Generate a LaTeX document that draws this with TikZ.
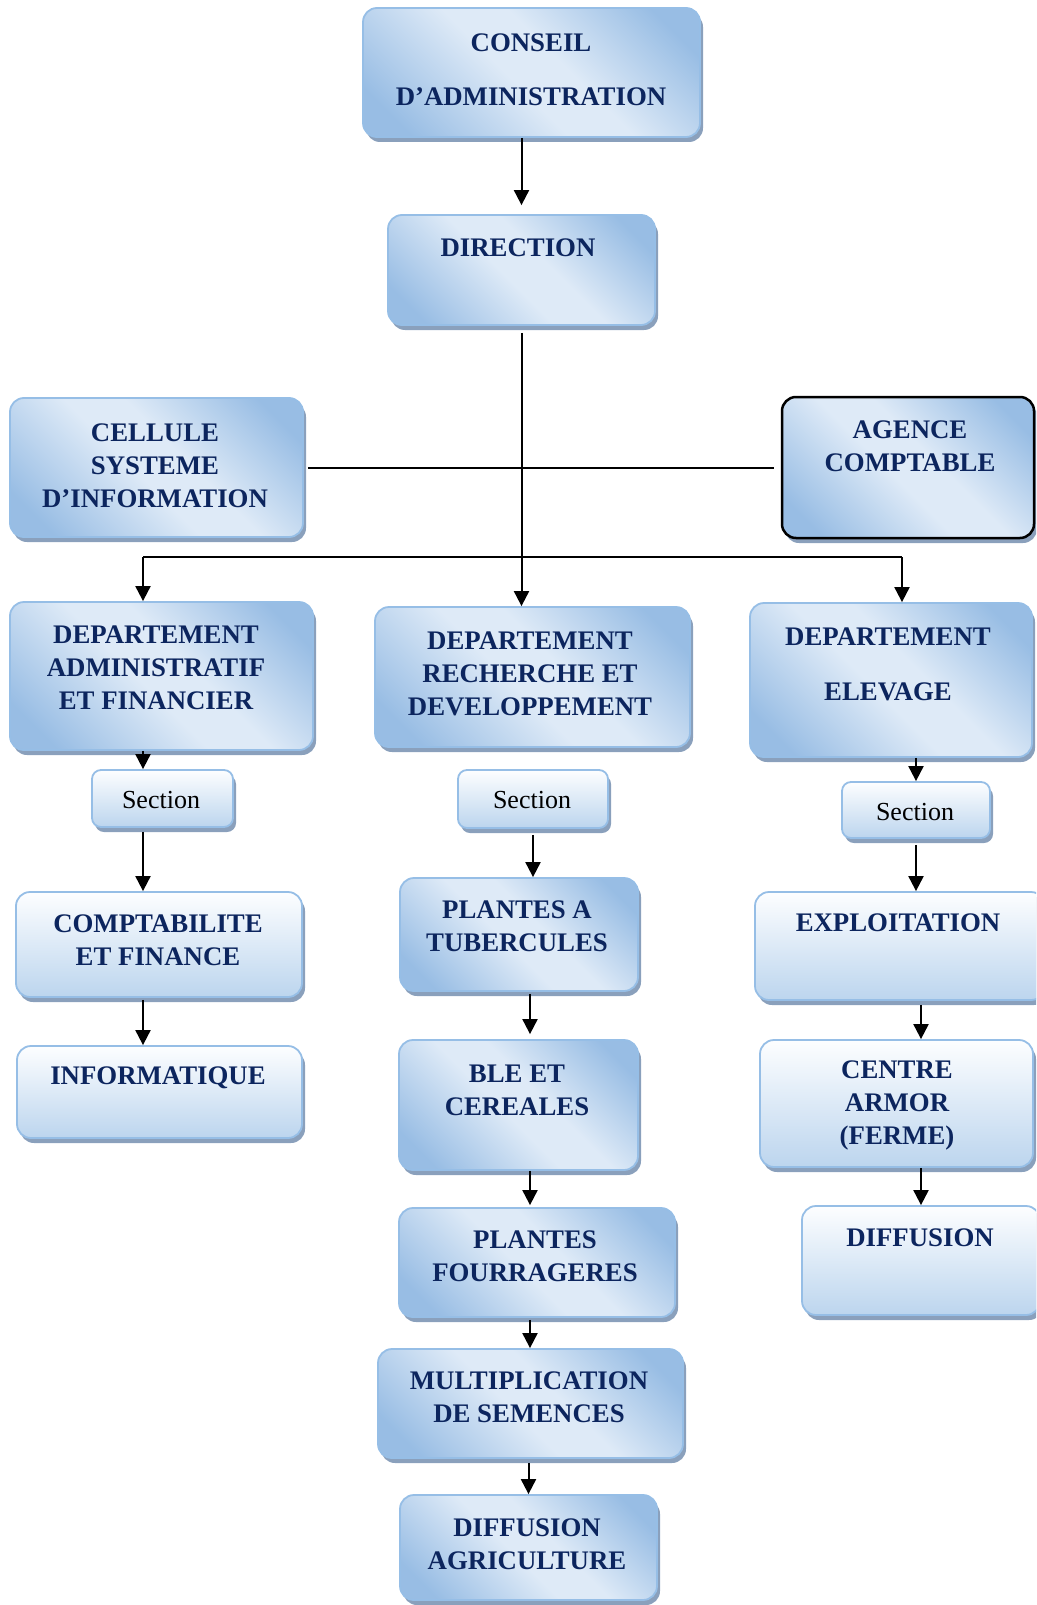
\documentclass[tikz,border=0pt]{standalone}
\usepackage{fontspec}
\setmainfont{Liberation Serif}
\usetikzlibrary{arrows.meta,shadows,calc}
\definecolor{navy}{RGB}{12,37,94}
\definecolor{bdark}{RGB}{152,189,228}
\definecolor{blight}{RGB}{222,234,247}
\definecolor{vtop}{RGB}{253,254,255}
\definecolor{vbot}{RGB}{188,213,238}
\definecolor{bord}{RGB}{150,190,230}
\definecolor{shadowc}{RGB}{138,160,188}
\pgfdeclarehorizontalshading{diagblue}{100bp}{color(0bp)=(bdark); color(22bp)=(bdark); color(46bp)=(blight); color(56bp)=(blight); color(78bp)=(bdark); color(100bp)=(bdark)}
\tikzset{
 boxbase/.style={draw=bord, line width=1.8pt, rounded corners=14pt, inner sep=0pt,
   drop shadow={shadow xshift=3pt, shadow yshift=-5pt, fill=shadowc, opacity=1}},
 dbox/.style={boxbase, shade, shading=diagblue, shading angle=45},
 vbox/.style={boxbase, top color=vtop, bottom color=vbot},
 secbox/.style={vbox, rounded corners=9pt},
 ttl/.style={font=\bfseries\fontsize{26.8}{33}\selectfont, text=navy, align=center, inner sep=0pt},
 sect/.style={font=\fontsize{26}{30}\selectfont, text=black, inner sep=0pt},
 arr/.style={line width=2pt, -{Triangle[width=15pt,length=15pt]}},
 conn/.style={line width=2pt},
}
\begin{document}
\begin{tikzpicture}[x=1pt,y=-1pt]
\useasboundingbox (0,0) rectangle (1036,1605);
\clip (0,0) rectangle (1036,1605);
% boxes
\node[dbox, minimum width=337pt, minimum height=129pt] (conseil) at (531.5,72.5) {};
\node[dbox, minimum width=267pt, minimum height=110pt] (direction) at (521.5,270) {};
\node[dbox, minimum width=293pt, minimum height=139pt] (cellule) at (156.5,467.5) {};
\node[dbox, draw=black, line width=2.5pt, minimum width=252pt, minimum height=141pt] (agence) at (908,467.5) {};
\node[dbox, minimum width=303pt, minimum height=148pt] (deptA) at (161.5,676) {};
\node[dbox, minimum width=315pt, minimum height=140pt] (deptR) at (532.5,677) {};
\node[dbox, minimum width=282pt, minimum height=154pt] (deptE) at (891,680) {};
\node[secbox, minimum width=141pt, minimum height=57pt] (secA) at (162.5,798.5) {};
\node[secbox, minimum width=150pt, minimum height=58pt] (secR) at (533,799) {};
\node[secbox, minimum width=148pt, minimum height=56pt] (secE) at (916,810) {};
\node[vbox, minimum width=286pt, minimum height=105pt] (compta) at (159,944.5) {};
\node[vbox, minimum width=285pt, minimum height=92pt] (info) at (159.5,1092) {};
\node[dbox, minimum width=238pt, minimum height=113pt] (tuber) at (519,934.5) {};
\node[dbox, minimum width=239pt, minimum height=130pt] (ble) at (518.5,1105) {};
\node[dbox, minimum width=276pt, minimum height=109pt] (fourr) at (537,1262.5) {};
\node[dbox, minimum width=305pt, minimum height=109pt] (multi) at (530.5,1403.5) {};
\node[dbox, minimum width=257pt, minimum height=105pt] (diffA) at (528.5,1547.5) {};
\node[vbox, minimum width=290pt, minimum height=108pt] (exploit) at (900,946) {};
\node[vbox, minimum width=273pt, minimum height=127pt] (centre) at (896.5,1103.5) {};
\node[vbox, minimum width=238pt, minimum height=109pt] (diffE) at (921,1260.5) {};
% texts
\node[ttl] (conseil-t) at (531,70) {CONSEIL\\[21pt]D’ADMINISTRATION};
\node[ttl] (direction-t) at (518,248) {DIRECTION};
\node[ttl] (cellule-t) at (155,466) {CELLULE\\SYSTEME\\D’INFORMATION};
\node[ttl] (agence-t) at (910,446.5) {AGENCE\\COMPTABLE};
\node[ttl] (deptA-t) at (156,667.5) {DEPARTEMENT\\ADMINISTRATIF\\ET FINANCIER};
\node[ttl] (deptR-t) at (530,673.5) {DEPARTEMENT\\RECHERCHE ET\\DEVELOPPEMENT};
\node[ttl] (deptE-t) at (888,664.5) {DEPARTEMENT\\[22pt]ELEVAGE};
\node[sect] (secA-t) at (161,800) {Section};
\node[sect] (secR-t) at (532,800) {Section};
\node[sect] (secE-t) at (915,812) {Section};
\node[ttl] (compta-t) at (158,940) {COMPTABILITE\\ET FINANCE};
\node[ttl] (info-t) at (158,1078) {INFORMATIQUE};
\node[ttl] (tuber-t) at (517,926) {PLANTES A\\TUBERCULES};
\node[ttl] (ble-t) at (517,1090) {BLE ET\\CEREALES};
\node[ttl] (fourr-t) at (535,1256.5) {PLANTES\\FOURRAGERES};
\node[ttl] (multi-t) at (529,1397.5) {MULTIPLICATION\\DE SEMENCES};
\node[ttl] (diffA-t) at (527,1544) {DIFFUSION\\AGRICULTURE};
\node[ttl] (exploit-t) at (898,923) {EXPLOITATION};
\node[ttl] (centre-t) at (897,1105.5) {CENTRE\\ARMOR\\(FERME)};
\node[ttl] (diffE-t) at (920,1238) {DIFFUSION};
% connectors
\coordinate (busL) at (143,557);
\coordinate (busR) at (902,557);
\coordinate (colM) at (530,0);
\draw[arr, shorten >=9pt] (direction.north |- conseil.south) -- (direction.north);
\draw[arr, shorten <=7pt] (direction.south) -- (direction.south |- deptR.north);
\draw[conn] ([xshift=4pt]cellule.east) -- ([xshift=-7pt]agence.west);
\draw[conn] (busL) -- (busR);
\draw[arr] (busL) -- (busL |- deptA.north);
\draw[arr] (busR) -- (busR |- deptE.north);
\draw[arr] (busL |- deptA.south) -- (busL |- secA.north);
\draw[arr, shorten <=4pt] (busL |- secA.south) -- (busL |- compta.north);
\draw[arr, shorten <=2pt] (busL |- compta.south) -- (busL |- info.north);
\draw[arr, shorten <=6pt] (secR.south) -- (secR.south |- tuber.north);
\draw[arr, shorten <=2pt, shorten >=5pt] (colM |- tuber.south) -- (colM |- ble.north);
\draw[arr, shorten >=2pt] (colM |- ble.south) -- (colM |- fourr.north);
\draw[arr, shorten <=2pt] (colM |- fourr.south) -- (colM |- multi.north);
\draw[arr, shorten <=4pt] (diffA.north |- multi.south) -- (diffA.north);
\draw[arr] (secE.north |- deptE.south) -- (secE.north);
\draw[arr, shorten <=6pt] (secE.south) -- (secE.south |- exploit.north);
\draw[arr, shorten <=4pt] (diffE.north |- exploit.south) -- (diffE.north |- centre.north);
\draw[arr] (diffE.north |- centre.south) -- (diffE.north);
\end{tikzpicture}
\end{document}
